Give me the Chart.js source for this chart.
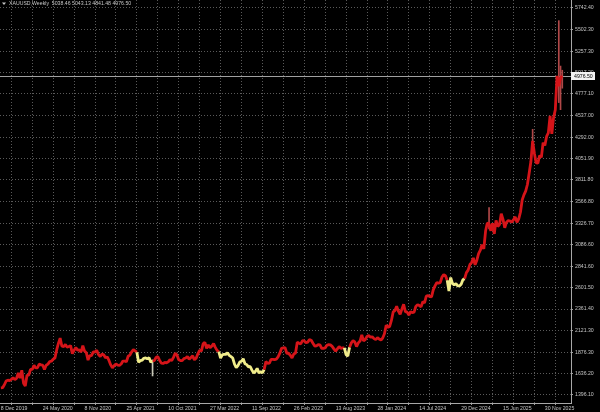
<!DOCTYPE html>
<html>
<head>
<meta charset="utf-8">
<script src="https://cdn.jsdelivr.net/npm/chart.js@4.4.1/dist/chart.umd.min.js"></script>
<style>
  html, body { margin: 0; padding: 0; background: #000; }
  canvas { display: block; }
</style>
</head>
<body>
<canvas id="goldChart" width="600" height="412"></canvas>
<script>
// XAUUSD weekly, week 0 = 8 Dec 2019
const symbolName = 'XAUUSD,Weekly';
const lastBar = [5038.46, 5043.13, 4841.48, 4976.50]; // open high low close

const closes = [
  1476, 1478, 1511, 1552, 1562, 1557, 1571, 1589, 1570, 1584,
  1643, 1585, 1674, 1529, 1498, 1617, 1620, 1683, 1683, 1729,
  1700, 1702, 1743, 1734, 1730, 1684, 1730, 1743, 1771, 1775,
  1798, 1810, 1902, 1975, 2035, 1944, 1940, 1964, 1933, 1940,
  1950, 1861, 1899, 1930, 1899, 1902, 1879, 1951, 1889, 1871,
  1788, 1839, 1839, 1881, 1877, 1898, 1849, 1828, 1855, 1847,
  1814, 1824, 1784, 1734, 1700, 1727, 1745, 1732, 1729, 1744,
  1777, 1777, 1769, 1831, 1844, 1881, 1905, 1891, 1877, 1764,
  1781, 1787, 1808, 1812, 1802, 1814, 1763, 1780, 1781, 1817,
  1827, 1788, 1754, 1750, 1761, 1757, 1768, 1793, 1783, 1818,
  1865, 1846, 1792, 1783, 1782, 1804, 1811, 1829, 1797, 1817,
  1835, 1791, 1808, 1859, 1898, 1889, 1970, 1988, 1921, 1958,
  1925, 1946, 1974, 1931, 1897, 1883, 1811, 1846, 1853, 1851,
  1871, 1840, 1827, 1811, 1742, 1703, 1727, 1766, 1775, 1802,
  1747, 1737, 1712, 1716, 1675, 1643, 1661, 1695, 1644, 1657,
  1644, 1681, 1771, 1751, 1754, 1797, 1797, 1793, 1798, 1824,
  1865, 1920, 1926, 1928, 1865, 1865, 1842, 1811, 1856, 1868,
  1989, 1978, 1969, 2007, 2004, 1983, 1990, 2017, 2011, 1977,
  1946, 1948, 1961, 1958, 1921, 1919, 1925, 1955, 1962, 1959,
  1942, 1914, 1889, 1915, 1940, 1919, 1924, 1925, 1849, 1833,
  1933, 1981, 2006, 1992, 1940, 1981, 2002, 2072, 2005, 2019,
  2053, 2063, 2045, 2049, 2029, 2018, 2039, 2024, 2013, 2036,
  2083, 2179, 2156, 2166, 2233, 2329, 2344, 2392, 2337, 2301,
  2360, 2415, 2333, 2327, 2293, 2332, 2321, 2326, 2391, 2411,
  2400, 2386, 2443, 2431, 2507, 2512, 2503, 2497, 2577, 2621,
  2658, 2653, 2657, 2721, 2747, 2736, 2685, 2563, 2715, 2650,
  2633, 2648, 2622, 2621, 2640, 2690, 2702, 2770, 2798, 2861,
  2883, 2936, 2858, 2910, 2984, 3022, 3085, 3037, 3237, 3327,
  3319, 3240, 3325, 3205, 3357, 3289, 3310, 3432, 3368, 3274,
  3337, 3355, 3350, 3337, 3363, 3397, 3336, 3372, 3448, 3586,
  3643, 3685, 3760, 3886, 4018, 4250, 4112, 4002, 4000, 4085,
  4065, 4230, 4198, 4300, 4340, 4530, 4330, 4510, 4600, 4980,
  4865, 4960, 4976.5
];

// stretches drawn in yellow (week indexes)
const yellowFrom = [78, 125, 197, 256];
const yellowTo = [87, 151, 200, 266];

// long shadows that stick out of the line
const wickWeeks = [87, 280, 305, 320, 321, 322];
const wickLows = [1610, 3260, 4140, 4680, 4600, 4841.48];
const wickHighs = [1790, 3500, 4380, 5600, 5090, 5043.13];

const priceTicks = [1396.10, 1636.20, 1876.30, 2121.30, 2361.40, 2601.50, 2841.60, 3086.60, 3326.70,
  3566.80, 3811.80, 4051.90, 4292.00, 4537.00, 4777.10, 5017.20, 5257.30, 5502.30, 5742.40];

const dateTickWeeks = [0, 24, 48, 72, 96, 120, 144, 168, 192, 216, 240, 264, 288, 312];
const dateTickLabels = ['8 Dec 2019', '24 May 2020', '8 Nov 2020', '25 Apr 2021', '10 Oct 2021',
  '27 Mar 2022', '11 Sep 2022', '26 Feb 2023', '13 Aug 2023', '28 Jan 2024', '14 Jul 2024',
  '29 Dec 2024', '15 Jun 2025', '30 Nov 2025'];

const RED = '#d51419';
const YELLOW = '#f0ec8a';
const TEXT = '#c4c4c4';
const FONT = 'Liberation Sans, Arial, sans-serif';

// grid every 12 weeks: label ticks plus the halfway lines
const gridWeeks = [];
dateTickWeeks.forEach(w => { gridWeeks.push(w, w + 12); });

function isYellow(a, b) {
  for (let k = 0; k < yellowFrom.length; k++) {
    if (a >= yellowFrom[k] && b <= yellowTo[k]) return true;
  }
  return false;
}

const overlay = {
  id: 'overlay',
  beforeDatasetsDraw(chart) {
    const {ctx, chartArea, scales} = chart;
    const y = Math.round(scales.y.getPixelForValue(lastBar[3])) + 0.5;
    ctx.save();
    ctx.strokeStyle = '#a0a0a0';
    ctx.lineWidth = 1;
    ctx.beginPath();
    ctx.moveTo(chartArea.left, y);
    ctx.lineTo(chartArea.right, y);
    ctx.stroke();
    ctx.restore();
  },
  afterDraw(chart) {
    const {ctx, chartArea, scales} = chart;
    const y = Math.round(scales.y.getPixelForValue(lastBar[3]));
    ctx.save();
    // current price box
    ctx.fillStyle = '#f2f2f2';
    ctx.fillRect(chartArea.right, y - 4, 24, 8);
    ctx.fillStyle = '#000';
    ctx.font = '5.2px ' + FONT;
    ctx.textBaseline = 'middle';
    ctx.textAlign = 'left';
    ctx.fillText(lastBar[3].toFixed(2), chartArea.right + 3, y + 0.5);
    // title
    ctx.fillStyle = TEXT;
    ctx.beginPath();
    ctx.moveTo(2, 2.5);
    ctx.lineTo(6, 2.5);
    ctx.lineTo(4, 5);
    ctx.closePath();
    ctx.fill();
    ctx.fillText(symbolName + '  ' + lastBar.map(v => v.toFixed(2)).join(' '), 9, 4);
    ctx.restore();
  }
};

const ctx = document.getElementById('goldChart').getContext('2d');
const goldChart = new Chart(ctx, {
  type: 'line',
  data: {
    datasets: [
      {
        type: 'bar',
        data: wickWeeks.map((w, k) => ({x: w, y: [wickLows[k], wickHighs[k]]})),
        backgroundColor: c => isYellow(wickWeeks[c.dataIndex], wickWeeks[c.dataIndex]) ? '#c8c8b8' : '#b04848',
        barThickness: 1,
        grouped: false,
        order: 2
      },
      {
        type: 'line',
        data: closes.map((c, i) => ({x: i, y: c})),
        borderColor: RED,
        borderWidth: 2.8,
        borderJoinStyle: 'bevel',
        pointRadius: 0,
        tension: 0,
        segment: {
          borderColor: c => isYellow(c.p0DataIndex, c.p1DataIndex) ? YELLOW : RED
        },
        order: 1
      }
    ]
  },
  options: {
    responsive: false,
    animation: false,
    devicePixelRatio: 1,
    layout: { padding: 0 },
    plugins: {
      legend: { display: false },
      tooltip: { enabled: false }
    },
    scales: {
      x: {
        type: 'linear',
        min: -0.5,
        max: 327,
        bounds: 'data',
        offset: false,
        afterBuildTicks: s => { s.ticks = gridWeeks.map(v => ({value: v})); },
        afterFit: s => { s.height = 9; s.paddingLeft = 0; s.paddingRight = 0; },
        ticks: {
          autoSkip: false,
          maxRotation: 0,
          minRotation: 0,
          align: 'start',
          padding: 0,
          color: TEXT,
          font: { family: FONT, size: 5.2 },
          callback: v => {
            const k = dateTickWeeks.indexOf(v);
            return k < 0 ? '' : dateTickLabels[k];
          }
        },
        grid: { color: '#5a5a5a', lineWidth: 1, tickLength: 2, tickColor: '#a0a0a0', borderDash: [1, 2] },
        border: { display: true, color: '#a8a8a8', dash: [1, 2] }
      },
      y: {
        type: 'linear',
        position: 'right',
        min: 1306,
        max: 5832,
        bounds: 'data',
        afterBuildTicks: s => { s.ticks = priceTicks.map(v => ({value: v})); },
        afterFit: s => { s.width = 29; s.paddingTop = 0; s.paddingBottom = 0; },
        ticks: {
          padding: 2,
          color: TEXT,
          font: { family: FONT, size: 5.2 },
          callback: v => Number(v).toFixed(2)
        },
        grid: { color: '#5a5a5a', lineWidth: 1, tickLength: 2, tickColor: '#a0a0a0', borderDash: [1, 2] },
        border: { display: true, color: '#a8a8a8', dash: [1, 2] }
      }
    }
  },
  plugins: [overlay]
});
</script>
</body>
</html>
